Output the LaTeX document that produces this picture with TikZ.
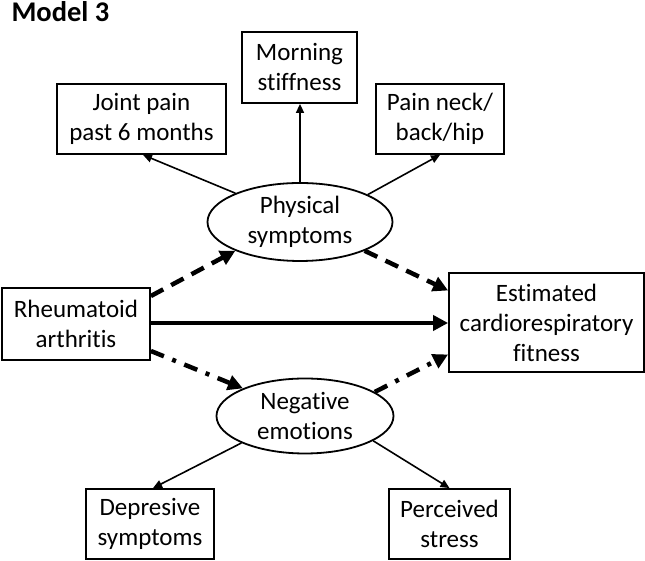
\documentclass[tikz,border=0pt]{standalone}
\usepackage{fontspec}
\setmainfont[Ligatures={NoCommon}]{Carlito}
\usetikzlibrary{arrows.meta,shapes.geometric}
\begin{document}
\begin{tikzpicture}[x=1pt,y=1pt,
  box/.style={draw,line width=1.8pt,inner sep=0pt,align=center,font=\fontsize{25}{30}\selectfont},
  oval/.style={draw,ellipse,line width=1.8pt,inner sep=0pt,align=center,font=\fontsize{25}{30}\selectfont},
  thin/.style={line width=1.6pt,-{Triangle[length=9pt,width=8pt]}},
  thick/.style={line width=4.5pt,-{Triangle[length=15pt,width=15pt]}},
  dsh/.style={thick,dash pattern=on 14pt off 9pt},
  dshdot/.style={thick,dash pattern=on 14pt off 9pt on 4pt off 9pt}]
\useasboundingbox (0,0) rectangle (645,561);
\node[anchor=base west,font=\fontsize{28.5}{32}\selectfont\bfseries] (title) at (8,539) {Model 3};
\node[box,minimum width=169pt,minimum height=70pt] (joint) at (141.5,442) {Joint pain\\past 6 months};
\node[box,minimum width=115pt,minimum height=71pt] (morning) at (299.5,493.5) {Morning\\stiffness};
\node[box,minimum width=128pt,minimum height=70pt] (pain) at (440,442) {Pain neck/\\back/hip};
\node[oval,minimum width=185pt,minimum height=78pt] (phys) at (300,339) {Physical\\symptoms};
\node[box,minimum width=148pt,minimum height=72pt] (rheum) at (76,237) {Rheumatoid\\arthritis};
\node[box,minimum width=195pt,minimum height=99pt] (est) at (546.5,238.5) {Estimated\\cardiorespiratory\\fitness};
\node[oval,minimum width=177pt,minimum height=75pt] (neg) at (305,145) {Negative\\emotions};
\node[box,minimum width=128pt,minimum height=70pt] (dep) at (150,37) {Depresive\\symptoms};
\node[box,minimum width=121pt,minimum height=70pt] (perc) at (449.5,37) {Perceived\\stress};
% thin indicator arrows
\draw[thin] (phys.156.7) -- ([xshift=1.5pt]joint.south);
\draw[thin] (phys.north) -- (phys.north |- morning.south);
\draw[thin] (phys.22.2) -- (pain.south);
\draw[thin] (neg.203.5) -- ([xshift=3pt]dep.north);
\draw[thin] (neg.340.6) -- (perc.north);
% structural paths
\draw[dsh] ([yshift=28pt]rheum.east) -- (phys.204);
\draw[dsh] (phys.336.7) -- ([yshift=32pt]est.west);
\draw[thick] ([yshift=1pt]rheum.east) -- ([yshift=1pt]rheum.east -| est.west);
\draw[dshdot] ([yshift=-27pt]rheum.east) -- (neg.156.5);
\draw[dshdot] (neg.19.7) -- ([yshift=-32pt]est.west);
\end{tikzpicture}
\end{document}
